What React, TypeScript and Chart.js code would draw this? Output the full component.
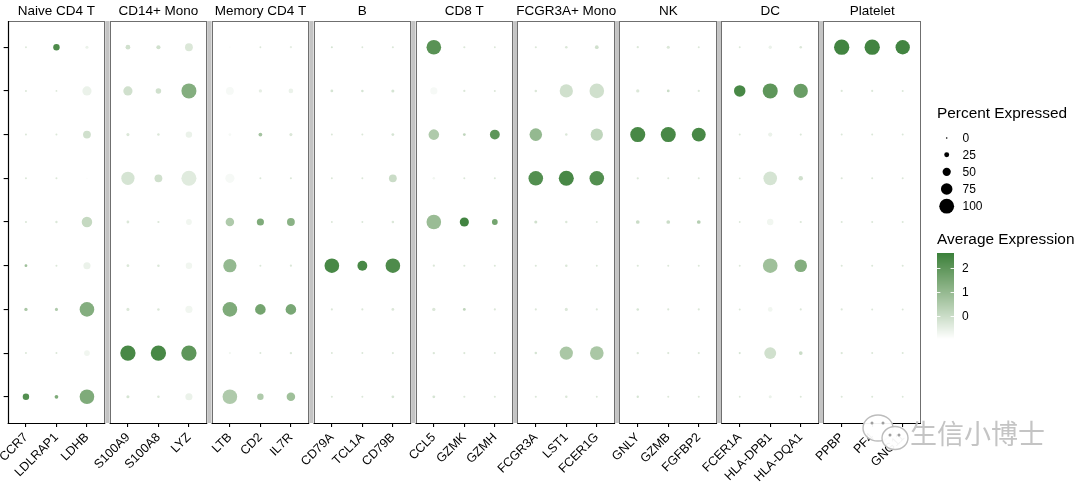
import React, { useEffect, useRef } from "react";
import { Chart, registerables } from "chart.js";

Chart.register(...registerables);

const FONT = '"Liberation Sans", Arial, Helvetica, sans-serif';

// ---------- data ----------
const genes = [
  "CCR7", "LDLRAP1", "LDHB",
  "S100A9", "S100A8", "LYZ",
  "LTB", "CD2", "IL7R",
  "CD79A", "TCL1A", "CD79B",
  "CCL5", "GZMK", "GZMH",
  "FCGR3A", "LST1", "FCER1G",
  "GNLY", "GZMB", "FGFBP2",
  "FCER1A", "HLA-DPB1", "HLA-DQA1",
  "PPBP", "PF4", "GNG11",
];

const panels = [
  "Naive CD4 T", "CD14+ Mono", "Memory CD4 T", "B", "CD8 T",
  "FCGR3A+ Mono", "NK", "DC", "Platelet",
];

// y categories, bottom to top
const clusters = [
  "Naive CD4 T", "CD14+ Mono", "Memory CD4 T", "B", "CD8 T",
  "FCGR3A+ Mono", "NK", "DC", "Platelet",
];

// percent expressed per cluster (one value per gene)
const pctNaiveCD4T = [35, 15, 95, 10, 6, 40, 95, 35, 50, 3, 2, 8, 8, 3, 2, 3, 6, 2, 5, 2, 2, 1, 10, 2, 2, 2, 1];
const pctCD14Mono = [2, 2, 30, 100, 100, 100, 4, 2, 5, 2, 2, 3, 5, 3, 2, 6, 85, 88, 5, 3, 3, 3, 75, 15, 4, 2, 2];
const pctMemoryCD4T = [12, 10, 95, 10, 6, 40, 95, 65, 65, 3, 3, 8, 12, 8, 3, 3, 10, 3, 6, 3, 3, 2, 22, 3, 3, 2, 2];
const pctB = [8, 2, 40, 8, 6, 35, 85, 2, 4, 95, 60, 95, 4, 3, 2, 3, 6, 2, 3, 2, 2, 2, 95, 80, 2, 2, 2];
const pctCD8T = [3, 5, 65, 8, 4, 30, 50, 40, 45, 2, 2, 6, 95, 55, 30, 10, 5, 2, 15, 15, 15, 1, 35, 4, 2, 2, 2];
const pctFCGR3AMono = [2, 2, 1, 85, 45, 98, 55, 2, 3, 2, 2, 45, 6, 2, 2, 95, 98, 95, 4, 2, 2, 1, 88, 20, 3, 2, 2];
const pctNK = [2, 2, 45, 10, 6, 35, 8, 15, 10, 2, 2, 8, 65, 8, 60, 80, 6, 78, 98, 98, 90, 2, 18, 3, 2, 2, 2];
const pctDC = [2, 1, 55, 55, 28, 98, 45, 12, 22, 8, 6, 10, 40, 4, 2, 6, 85, 95, 12, 8, 4, 72, 98, 93, 3, 3, 2];
const pctPlatelet = [1, 35, 10, 22, 18, 45, 0, 1, 4, 3, 1, 3, 95, 3, 1, 3, 6, 15, 4, 10, 2, 2, 12, 6, 100, 100, 93];

// average (scaled) expression per cluster
const avgNaiveCD4T = [2.2, 1.4, 1.4, -0.2, -0.3, -0.6, 0.5, 0.5, 0.8, -0.3, -0.3, -0.2, -0.2, -0.3, -0.3, -0.3, -0.3, -0.3, -0.2, -0.3, -0.3, -0.3, -0.6, -0.3, -0.3, -0.3, -0.3];
const avgCD14Mono = [-0.3, -0.3, -0.7, 2.4, 2.4, 2.0, -0.7, -0.3, -0.3, -0.3, -0.3, -0.3, -0.3, -0.3, -0.3, -0.2, 0.6, 0.6, -0.3, -0.3, -0.3, -0.2, -0.1, 0.0, -0.3, -0.3, -0.3];
const avgMemoryCD4T = [0.6, 0.5, 1.3, -0.3, -0.3, -0.7, 1.4, 1.6, 1.5, -0.3, -0.3, -0.3, -0.3, 0.2, -0.3, -0.3, -0.3, -0.3, -0.2, -0.3, -0.3, -0.3, -0.7, -0.3, -0.3, -0.3, -0.3];
const avgB = [0.8, -0.3, -0.6, -0.3, -0.3, -0.7, 1.0, -0.3, -0.3, 2.4, 2.4, 2.3, -0.3, -0.3, -0.3, -0.3, -0.3, -0.3, -0.3, -0.3, -0.3, -0.3, 0.8, 1.3, -0.3, -0.3, -0.3];
const avgCD8T = [-0.3, -0.3, 0.1, -0.3, -0.3, -0.7, 0.5, 1.4, 1.2, -0.3, -0.3, -0.3, 0.9, 2.5, 1.6, -0.1, -0.3, -0.3, 0.0, 0.0, 0.4, -0.3, -0.7, -0.3, -0.3, -0.3, -0.3];
const avgFCGR3AMono = [-0.3, -0.3, -0.9, -0.2, -0.1, -0.4, -0.8, -0.3, -0.3, -0.3, -0.3, 0.0, -0.7, -0.3, -0.3, 2.2, 2.4, 2.2, -0.3, -0.3, -0.3, -0.3, -0.2, -0.1, -0.3, -0.3, -0.3];
const avgNK = [-0.3, -0.3, -0.1, -0.3, -0.3, -0.6, -0.8, 0.7, -0.3, -0.3, -0.3, -0.2, 0.5, 0.2, 2.0, 1.0, -0.3, 0.2, 2.4, 2.4, 2.4, -0.3, -0.6, -0.3, -0.3, -0.3, -0.3];
const avgDC = [-0.3, -0.3, -0.6, -0.1, -0.1, 1.3, -0.8, -0.5, -0.6, -0.2, -0.2, -0.2, -0.8, -0.3, -0.3, -0.3, -0.1, -0.1, -0.3, 0.0, -0.3, 2.4, 2.0, 1.8, -0.3, -0.3, -0.3];
const avgPlatelet = [-0.3, 2.3, -0.6, -0.1, -0.1, -0.3, -0.9, -0.3, -0.5, -0.2, -0.3, -0.3, 2.1, -0.3, -0.3, -0.3, -0.3, -0.1, -0.3, -0.3, -0.3, -0.3, -0.6, -0.3, 2.5, 2.5, 2.5];

const pctByCluster = [pctNaiveCD4T, pctCD14Mono, pctMemoryCD4T, pctB, pctCD8T, pctFCGR3AMono, pctNK, pctDC, pctPlatelet];
const avgByCluster = [avgNaiveCD4T, avgCD14Mono, avgMemoryCD4T, avgB, avgCD8T, avgFCGR3AMono, avgNK, avgDC, avgPlatelet];

const sizeBreaks = [0, 25, 50, 75, 100];
const colorBreaks = [0, 1, 2];
const colorLimits = [-0.96, 2.63];

// ---------- scales helpers ----------
const PANEL_W = 3.2;
const GAP = 0.143;
const PER_PANEL = 3;
const X_MAX = panels.length * PANEL_W + (panels.length - 1) * GAP;
const panelStart = (p: number) => p * (PANEL_W + GAP);
const geneX = (gi: number) => panelStart(Math.floor(gi / PER_PANEL)) + 0.6 + (gi % PER_PANEL);
const radiusOf = (pct: number) => 0.85 + 0.068 * pct;

// Lab colour interpolation (like ggplot's gradient)
const LOW = [255, 255, 255];
const HIGH = [58, 128, 58];
const WHITE = [0.95047, 1, 1.08883];
function toLin(c: number) { c /= 255; return c <= 0.04045 ? c / 12.92 : Math.pow((c + 0.055) / 1.055, 2.4); }
function fromLin(c: number) { const v = c <= 0.0031308 ? 12.92 * c : 1.055 * Math.pow(c, 1 / 2.4) - 0.055; return Math.max(0, Math.min(255, Math.round(v * 255))); }
function rgb2lab(rgb: number[]) {
  const r = toLin(rgb[0]), g = toLin(rgb[1]), b = toLin(rgb[2]);
  const X = (0.4124 * r + 0.3576 * g + 0.1805 * b) / WHITE[0];
  const Y = (0.2126 * r + 0.7152 * g + 0.0722 * b) / WHITE[1];
  const Z = (0.0193 * r + 0.1192 * g + 0.9505 * b) / WHITE[2];
  const f = (t: number) => (t > 0.008856 ? Math.cbrt(t) : 7.787 * t + 16 / 116);
  const fx = f(X), fy = f(Y), fz = f(Z);
  return [116 * fy - 16, 500 * (fx - fy), 200 * (fy - fz)];
}
function lab2rgb(lab: number[]) {
  const fy = (lab[0] + 16) / 116, fx = fy + lab[1] / 500, fz = fy - lab[2] / 200;
  const inv = (t: number) => (t * t * t > 0.008856 ? t * t * t : (t - 16 / 116) / 7.787);
  const X = inv(fx) * WHITE[0], Y = inv(fy) * WHITE[1], Z = inv(fz) * WHITE[2];
  const r = 3.2406 * X - 1.5372 * Y - 0.4986 * Z;
  const g = -0.9689 * X + 1.8758 * Y + 0.0415 * Z;
  const b = 0.0557 * X - 0.204 * Y + 1.057 * Z;
  return [fromLin(r), fromLin(g), fromLin(b)];
}
const LAB_LOW = rgb2lab(LOW);
const LAB_HIGH = rgb2lab(HIGH);
function colorOf(v: number) {
  let t = (v - colorLimits[0]) / (colorLimits[1] - colorLimits[0]);
  t = Math.max(0, Math.min(1, t));
  const lab = [0, 1, 2].map((k) => LAB_LOW[k] + (LAB_HIGH[k] - LAB_LOW[k]) * t);
  const c = lab2rgb(lab);
  return `rgb(${c[0]},${c[1]},${c[2]})`;
}

// ---------- decorations plugin ----------
const decorPlugin = {
  id: "decor",
  afterDraw(chart: any) {
    const ctx = chart.ctx as CanvasRenderingContext2D;
    const xs = chart.scales.x;
    const area = chart.chartArea;
    const top = Math.round(area.top) + 0.5;
    const bottom = Math.round(area.bottom) + 0.5;
    ctx.save();
    // gaps between panels
    for (let p = 0; p < panels.length - 1; p++) {
      const a = xs.getPixelForValue(panelStart(p) + PANEL_W);
      const b = xs.getPixelForValue(panelStart(p + 1));
      ctx.fillStyle = "#c4c4c4";
      ctx.fillRect(a, area.top, b - a, area.bottom - area.top);
    }
    // panel borders
    ctx.strokeStyle = "#6f6f6f";
    ctx.lineWidth = 1;
    for (let p = 0; p < panels.length; p++) {
      const l = Math.round(xs.getPixelForValue(panelStart(p))) + 0.5;
      const r = Math.round(xs.getPixelForValue(panelStart(p) + PANEL_W)) - 0.5;
      ctx.strokeRect(l, top, r - l, bottom - top);
    }
    // axis lines (black)
    ctx.strokeStyle = "#000";
    ctx.lineWidth = 1.2;
    ctx.beginPath();
    ctx.moveTo(Math.round(area.left) + 0.5, area.top);
    ctx.lineTo(Math.round(area.left) + 0.5, bottom);
    ctx.stroke();
    for (let p = 0; p < panels.length; p++) {
      const l = xs.getPixelForValue(panelStart(p));
      const r = xs.getPixelForValue(panelStart(p) + PANEL_W);
      ctx.beginPath();
      ctx.moveTo(l, bottom);
      ctx.lineTo(r, bottom);
      ctx.stroke();
    }
    // strip titles
    ctx.fillStyle = "#000";
    ctx.font = `13.5px ${FONT}`;
    ctx.textAlign = "center";
    ctx.textBaseline = "middle";
    for (let p = 0; p < panels.length; p++) {
      const c = xs.getPixelForValue(panelStart(p) + PANEL_W / 2);
      ctx.fillText(panels[p], c, 11);
    }
    // legend: size
    ctx.textAlign = "left";
    ctx.font = `15.4px ${FONT}`;
    ctx.fillText("Percent Expressed", 937, 114);
    const sizeY = [138, 154.7, 171.8, 189, 206.2];
    ctx.font = `12px ${FONT}`;
    sizeBreaks.forEach((b, i) => {
      ctx.beginPath();
      ctx.fillStyle = "#000";
      ctx.arc(946.7, sizeY[i], radiusOf(b) * 0.97, 0, Math.PI * 2);
      ctx.fill();
      ctx.fillText(String(b), 962.5, sizeY[i] + 0.5);
    });
    // legend: colour
    ctx.font = `15.4px ${FONT}`;
    ctx.fillText("Average Expression", 937, 240);
    const barTop = 253, barBot = 339, barL = 937, barW = 17;
    const valAt = (y: number) => colorLimits[1] - ((y - barTop) / (barBot - barTop)) * (colorLimits[1] - colorLimits[0]);
    for (let y = barTop; y < barBot; y++) {
      ctx.fillStyle = colorOf(valAt(y + 0.5));
      ctx.fillRect(barL, y, barW, 1);
    }
    ctx.strokeStyle = "rgba(255,255,255,0.9)";
    ctx.lineWidth = 1;
    ctx.font = `12px ${FONT}`;
    colorBreaks.forEach((b) => {
      const y = barTop + ((colorLimits[1] - b) / (colorLimits[1] - colorLimits[0])) * (barBot - barTop);
      const yy = Math.round(y) + 0.5;
      ctx.beginPath();
      ctx.moveTo(barL, yy); ctx.lineTo(barL + 3.4, yy);
      ctx.moveTo(barL + barW - 3.4, yy); ctx.lineTo(barL + barW, yy);
      ctx.stroke();
      ctx.fillStyle = "#000";
      ctx.fillText(String(b), 962, y + 0.5);
    });
    // watermark
    ctx.globalAlpha = 0.95;
    ctx.fillStyle = "#fff";
    ctx.strokeStyle = "#b8b8b8";
    ctx.lineWidth = 1.4;
    ctx.beginPath();
    ctx.ellipse(878, 428, 15, 13, 0, 0, Math.PI * 2);
    ctx.fill(); ctx.stroke();
    ctx.beginPath();
    ctx.ellipse(895, 438, 13, 11.5, 0, 0, Math.PI * 2);
    ctx.fill(); ctx.stroke();
    ctx.fillStyle = "#9a9a9a";
    [[872, 423], [883, 423], [890, 435], [899, 435]].forEach(([x, y]) => {
      ctx.beginPath(); ctx.arc(x, y, 1.5, 0, Math.PI * 2); ctx.fill();
    });
    ctx.font = `27px "Noto Sans CJK SC", sans-serif`;
    ctx.fillStyle = "rgba(190,190,190,0.95)";
    ctx.textBaseline = "middle";
    ctx.fillText("生信小博士", 910, 434);
    ctx.restore();
  },
};

export default function App() {
  const ref = useRef<HTMLCanvasElement | null>(null);
  useEffect(() => {
    if (!ref.current) return;
    const datasets = clusters.map((cl, ci) => ({
      label: cl,
      data: genes.map((g, gi) => ({
        x: geneX(gi),
        y: ci + 1,
        r: radiusOf(pctByCluster[ci][gi]),
        avg: avgByCluster[ci][gi],
      })),
      backgroundColor: (c: any) => colorOf(c.raw ? c.raw.avg : 0),
      borderWidth: 0,
      hoverBorderWidth: 0,
      hoverRadius: 0,
    }));
    const chart = new Chart(ref.current, {
      type: "bubble",
      data: { datasets } as any,
      plugins: [decorPlugin],
      options: {
        animation: false,
        responsive: false,
        events: [],
        layout: { padding: { left: 0, top: 21, right: 159, bottom: 0 } },
        plugins: { legend: { display: false }, tooltip: { enabled: false } },
        scales: {
          x: {
            type: "linear",
            min: 0,
            max: X_MAX,
            afterBuildTicks: (s: any) => {
              s.ticks = genes.map((g, i) => ({ value: geneX(i) }));
            },
            afterFit: (s: any) => {
              s.height = 60;
              s.paddingLeft = 0;
              s.paddingRight = 0;
            },
            ticks: {
              autoSkip: false,
              minRotation: 45,
              maxRotation: 45,
              padding: 3,
              color: "#000",
              font: { family: FONT, size: 12.5 },
              callback: (_v: any, i: number) => genes[i],
            },
            grid: { drawOnChartArea: false, drawTicks: true, tickLength: 4, color: "#000", lineWidth: 1.1 },
            border: { display: false },
          },
          y: {
            type: "linear",
            min: 0.4,
            max: 9.6,
            afterBuildTicks: (s: any) => {
              s.ticks = clusters.map((c, i) => ({ value: i + 1 }));
            },
            afterFit: (s: any) => {
              s.width = 4;
              s.paddingTop = 0;
              s.paddingBottom = 0;
            },
            ticks: { display: false },
            grid: { drawOnChartArea: false, drawTicks: true, tickLength: 4, color: "#000", lineWidth: 1.1 },
            border: { display: false },
          },
        },
      } as any,
    });
    return () => chart.destroy();
  }, []);
  return (
    <div style={{ position: "absolute", left: 0, top: 0, width: 1080, height: 483, background: "#fff" }}>
      <canvas ref={ref} width={1080} height={483} style={{ display: "block" }} />
    </div>
  );
}
